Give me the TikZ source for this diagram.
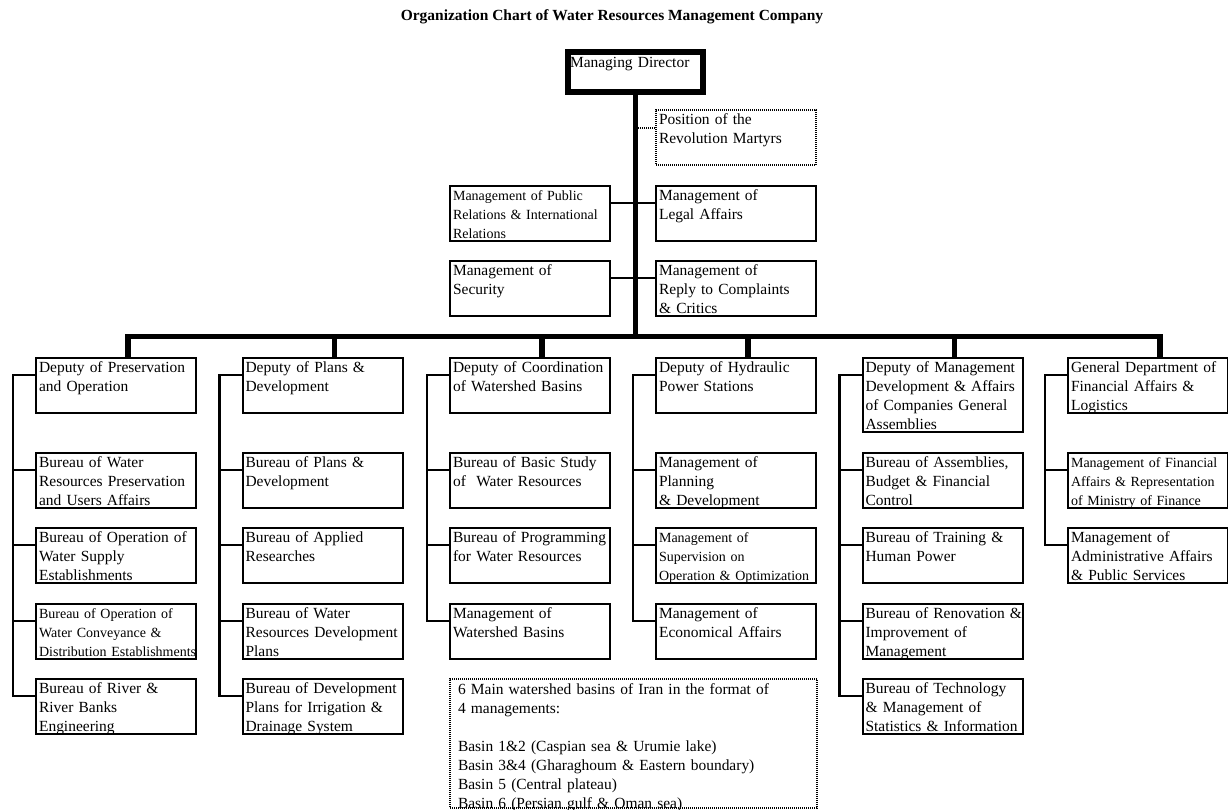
\documentclass[tikz,border=0pt]{standalone}
\usepackage{fontspec}
\setmainfont{Liberation Serif}
\newcommand\orgfont{\fontsize{11.6pt}{14.25pt}\selectfont\hyphenpenalty=10000 }
\newcommand\orgsmall{\fontsize{10.5pt}{14.25pt}\selectfont\hyphenpenalty=10000 }
\begin{document}
\begin{tikzpicture}[x=0.75pt,y=-0.75pt,
  every node/.style={inner sep=0pt},
  unitbox/.style={draw, line width=1.6pt, anchor=north west, inner xsep=2.25pt,
    inner ysep=0pt, text width=115.5pt, align=left, font=\orgfont,
    text height=10.5pt, text depth=30.75pt},
  tallbox/.style={unitbox, text depth=45pt},
  smalltext/.style={font=\orgsmall},
  dotbox/.style={unitbox, line width=1.5pt, dash pattern=on 0.75pt off 0.75pt},
  headbox/.style={draw, line width=4.5pt, anchor=north west, inner xsep=1.5pt,
    inner ysep=0pt, text width=98.25pt, align=left, font=\orgfont,
    text height=11.25pt, text depth=18.75pt},
  link/.style={line width=1.6pt},
  dotlink/.style={line width=1.5pt, dash pattern=on 0.75pt off 0.75pt},
  heavy/.style={line width=4.3pt}
]
\useasboundingbox (0,0) rectangle (1228,810);

% title
\node[font=\orgfont\bfseries, anchor=base] (title) at (612,20)
  {Organization Chart of Water Resources Management Company};

% head of the company
\node[headbox] (md) at (565,49) {Managing Director};

% staff units beside the trunk
\node[dotbox] (pos) at (655,109) {Position of the\\Revolution Martyrs};
\node[unitbox, smalltext] (pr) at (449,185) {Management of Public\\Relations \& International\\Relations};
\node[unitbox] (legal) at (655,185) {Management of\\Legal Affairs};
\node[unitbox] (sec) at (449,260) {Management of\\Security};
\node[unitbox] (compl) at (655,260) {Management of\\Reply to Complaints\\\& Critics};

% column 1
\node[unitbox] (d1) at (35,357) {Deputy of Preservation\\and Operation};
\node[unitbox] (d1a) at (35,452) {Bureau of Water\\Resources Preservation\\and Users Affairs};
\node[unitbox] (d1b) at (35,527) {Bureau of Operation of\\Water Supply\\Establishments};
\node[unitbox, smalltext] (d1c) at (35,603) {Bureau of Operation of\\Water Conveyance \&\\\mbox{Distribution Establishments}};
\node[unitbox] (d1d) at (35,678) {Bureau of River \&\\River Banks\\Engineering};

% column 2
\node[unitbox] (d2) at (241.5,357) {Deputy of Plans \&\\Development};
\node[unitbox] (d2a) at (241.5,452) {Bureau of Plans \&\\Development};
\node[unitbox] (d2b) at (241.5,527) {Bureau of Applied\\Researches};
\node[unitbox] (d2c) at (241.5,603) {Bureau of Water\\Resources Development\\Plans};
\node[unitbox] (d2d) at (241.5,678) {Bureau of Development\\Plans for Irrigation \&\\Drainage System};

% column 3
\node[unitbox] (d3) at (449,357) {Deputy of Coordination\\of Watershed Basins};
\node[unitbox] (d3a) at (449,452) {Bureau of Basic Study\\of\ \ Water Resources};
\node[unitbox] (d3b) at (449,527) {Bureau of Programming\\for Water Resources};
\node[unitbox] (d3c) at (449,603) {Management of\\Watershed Basins};

% column 4
\node[unitbox] (d4) at (655,357) {Deputy of Hydraulic\\Power Stations};
\node[unitbox] (d4a) at (655,452) {Management of\\Planning\\\& Development};
\node[unitbox, smalltext] (d4b) at (655,527) {Management of\\Supervision on\\\mbox{Operation \& Optimization}};
\node[unitbox] (d4c) at (655,603) {Management of\\Economical Affairs};

% column 5
\node[tallbox] (d5) at (861.5,357) {Deputy of Management\\Development \& Affairs\\of Companies General\\Assemblies};
\node[unitbox] (d5a) at (861.5,452) {Bureau of Assemblies,\\Budget \& Financial\\Control};
\node[unitbox] (d5b) at (861.5,527) {Bureau of Training \&\\Human Power};
\node[unitbox] (d5c) at (861.5,603) {\mbox{Bureau of Renovation \&}\\Improvement of\\Management};
\node[unitbox] (d5d) at (861.5,678) {Bureau of Technology\\\& Management of\\\mbox{Statistics \& Information}};

% column 6
\node[unitbox] (d6) at (1067,357) {General Department of\\Financial Affairs \&\\Logistics};
\node[unitbox, smalltext] (d6a) at (1067,452) {\mbox{Management of Financial}\\\mbox{Affairs \& Representation}\\of Ministry of Finance};
\node[unitbox] (d6b) at (1067,527) {Management of\\Administrative Affairs\\\& Public Services};

% note on the watershed basins
\node[dotbox, text width=263.25pt, inner xsep=6pt, text height=11.5pt, text depth=85.25pt] (basins) at (449,678)
  {6 Main watershed basins of Iran in the format of\\4 managements:\\[14.25pt]
   Basin 1\&2 (Caspian sea \& Urumie lake)\\Basin 3\&4 (Gharaghoum \& Eastern boundary)\\
   Basin 5 (Central plateau)\\Basin 6 (Persian gulf \& Oman sea)};

% connectors of the staff units
\draw[dotlink] ([yshift=-14.25pt]pos.north west) -- ([yshift=-14.25pt]pos.north west -| md.south);
\draw[link] ([yshift=-13.5pt]pr.north east) -- ([yshift=-13.5pt]legal.north west);
\draw[link] ([yshift=-13.5pt]sec.north east) -- ([yshift=-13.5pt]compl.north west);

% trunk and bus
\coordinate (bus) at (633,336.5);
\draw[heavy] (md.south) -- ([yshift=-2pt]md.south |- bus);
\draw[heavy] ([xshift=9pt]d1.north) |- (bus) -| ([xshift=9pt]d6.north);
\foreach \n in {d2,d3,d4,d5}
  \draw[heavy] ([xshift=9pt]\n.north) -- ([xshift=9pt]\n.north |- bus);

% spines of the columns
\draw[link] ([yshift=-13.5pt]d1.north west) -- ++(-16.5pt,0) |- ([yshift=-13.5pt]d1d.north west);
\draw[link] ([yshift=-13.5pt]d2.north west) -- ++(-16.5pt,0) |- ([yshift=-13.5pt]d2d.north west);
\draw[link] ([yshift=-13.5pt]d3.north west) -- ++(-16.5pt,0) |- ([yshift=-13.5pt]d3c.north west);
\draw[link] ([yshift=-13.5pt]d4.north west) -- ++(-16.5pt,0) |- ([yshift=-13.5pt]d4c.north west);
\draw[link] ([yshift=-13.5pt]d5.north west) -- ++(-16.5pt,0) |- ([yshift=-13.5pt]d5d.north west);
\draw[link] ([yshift=-13.5pt]d6.north west) -- ++(-16.5pt,0) |- ([yshift=-13.5pt]d6b.north west);
\foreach \n in {d1a,d1b,d1c,d2a,d2b,d2c,d3a,d3b,d4a,d4b,d5a,d5b,d5c,d6a}
  \draw[link] ([yshift=-13.5pt]\n.north west) -- ++(-16.5pt,0);
\end{tikzpicture}
\end{document}
